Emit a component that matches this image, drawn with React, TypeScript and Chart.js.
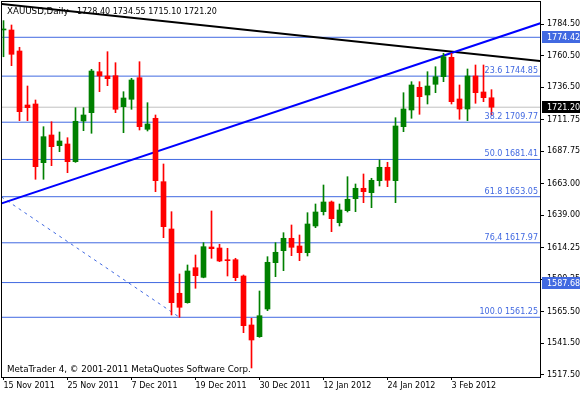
import React, { useEffect, useRef } from "react";
import { Chart, registerables } from "chart.js";
Chart.register(...registerables);

const FONT = "DejaVu Sans";
const RED = "#FF0000";
const GREEN = "#008000";
const LEVEL = "#4169E1";

const headerSymbol = "XAUUSD,Daily";
const headerQuote = "1728.40 1734.55 1715.10 1721.20";
const footerText = "MetaTrader 4, \u00A9 2001-2011 MetaQuotes Software Corp.";

const opens = [1780.0, 1779.98, 1763.99, 1722.88, 1723.64, 1678.95, 1700.04, 1691.89, 1693.19, 1679.71, 1710.7, 1717.02, 1748.23, 1744.96, 1745.19, 1721.59, 1727.22, 1743.66, 1704.38, 1712.75, 1664.49, 1628.48, 1579.53, 1572.37, 1599.01, 1591.7, 1614.77, 1614.01, 1605.1, 1605.1, 1592.69, 1555.39, 1546.48, 1567.57, 1602.82, 1611.96, 1621.39, 1615.53, 1610.43, 1630.76, 1641.65, 1649.03, 1633.27, 1642.41, 1651.54, 1659.46, 1656.11, 1665.25, 1675.45, 1665.25, 1706.36, 1719.07, 1736.35, 1730.49, 1738.64, 1744.42, 1759.19, 1727.45, 1719.83, 1744.96, 1732.78, 1728.4];
const highs = [1787.1, 1783.78, 1766.81, 1737.34, 1726.69, 1706.36, 1710.17, 1702.32, 1697.98, 1720.82, 1720.82, 1750.06, 1755.39, 1763.46, 1755.08, 1733.0, 1743.21, 1755.84, 1724.63, 1715.27, 1677.96, 1641.65, 1594.22, 1601.07, 1608.68, 1618.05, 1642.18, 1616.83, 1613.78, 1606.17, 1593.46, 1560.49, 1581.27, 1607.39, 1618.05, 1625.66, 1631.52, 1623.91, 1640.89, 1647.51, 1661.97, 1649.79, 1647.51, 1668.29, 1662.74, 1670.35, 1667.07, 1681.01, 1679.25, 1713.21, 1732.24, 1740.62, 1740.62, 1748.23, 1752.04, 1762.24, 1762.24, 1738.11, 1750.29, 1753.33, 1753.33, 1734.55];
const lows = [1759.6, 1752.8, 1710.93, 1710.93, 1666.32, 1666.32, 1676.67, 1687.33, 1671.34, 1679.2, 1703.31, 1701.34, 1733.0, 1737.57, 1717.02, 1701.79, 1719.61, 1703.85, 1703.09, 1656.87, 1621.85, 1563.01, 1561.25, 1572.0, 1583.33, 1591.3, 1606.17, 1603.6, 1592.69, 1589.12, 1549.53, 1522.65, 1546.0, 1566.28, 1592.16, 1596.73, 1608.15, 1604.34, 1607.92, 1629.47, 1639.14, 1626.42, 1630.76, 1641.42, 1641.65, 1648.5, 1644.69, 1661.21, 1660.68, 1648.5, 1702.55, 1712.75, 1715.8, 1723.64, 1732.24, 1740.62, 1723.64, 1711.99, 1710.93, 1724.17, 1725.39, 1715.1];
const closes = [1780.6, 1761.48, 1717.78, 1720.82, 1675.91, 1698.75, 1691.13, 1695.47, 1679.71, 1710.47, 1715.27, 1748.76, 1744.96, 1742.9, 1719.61, 1728.21, 1741.91, 1706.36, 1708.41, 1665.25, 1630.23, 1572.37, 1568.86, 1596.5, 1592.92, 1615.0, 1613.48, 1604.11, 1604.34, 1591.4, 1554.86, 1543.97, 1562.47, 1603.12, 1610.74, 1621.39, 1614.54, 1610.43, 1632.28, 1641.42, 1649.03, 1636.32, 1642.94, 1651.09, 1659.46, 1656.87, 1665.55, 1675.45, 1665.55, 1706.89, 1719.83, 1738.11, 1729.2, 1737.34, 1744.42, 1759.65, 1725.39, 1719.83, 1744.96, 1732.24, 1728.44, 1721.2];

const dateLabels = ["15 Nov 2011", "25 Nov 2011", "7 Dec 2011", "19 Dec 2011", "30 Dec 2011", "12 Jan 2012", "24 Jan 2012", "3 Feb 2012"];
const dateTickIndex = [0, 8, 16, 24, 32, 40, 48, 56];
const priceTicks = [1784.5, 1760.5, 1736.5, 1711.75, 1687.75, 1663.0, 1639.0, 1614.25, 1590.25, 1565.5, 1541.5, 1517.5];

const fibNames = ["23.6", "38.2", "50.0", "61.8", "76,4", "100.0"];
const fibLevels = [1744.85, 1709.77, 1681.41, 1653.05, 1617.97, 1561.25];
const markedLevels = [1774.42, 1587.68];
const lastPrice = 1721.2;

// trend lines: [x index, price] end points
const blackTrendX = [-1, 68];
const blackTrendY = [1800.26, 1755.78];
const blueTrendX = [-1, 68];
const blueTrendY = [1646.46, 1786.95];
const fibDiagX = [-1, 22];
const fibDiagY = [1655.97, 1561.25];

const X_MIN = -0.1875;
const X_MAX = 67.0625;
const Y_MAX = 1801.29;
const Y_MIN = 1515.79;

export default function App() {
  const ref = useRef<HTMLCanvasElement>(null);
  useEffect(() => {
    document.body.style.margin = "0";
    const canvas = ref.current!;
    const up = opens.map((o, i) => closes[i] >= o);
    const colors = up.map((u) => (u ? GREEN : RED));

    const hLine = (v: number, color: string, order: number) => ({
      type: "line",
      data: [
        { x: X_MIN - 1, y: v },
        { x: X_MAX + 1, y: v },
      ],
      borderColor: color,
      borderWidth: 1,
      pointRadius: 0,
      fill: false,
      clip: 0,
      order,
    });

    const datasets: any[] = [
      {
        type: "bar",
        data: opens.map((_, i) => ({ x: i, y: [lows[i], highs[i]] })),
        backgroundColor: colors,
        borderWidth: 0,
        barThickness: 1,
        grouped: false,
        order: 1,
      },
      {
        type: "bar",
        data: opens.map((o, i) => ({ x: i, y: [o, closes[i]] })),
        backgroundColor: colors,
        borderWidth: 0,
        barThickness: 5,
        minBarLength: 1,
        grouped: false,
        order: 0,
      },
    ];
    fibLevels.forEach((v) => datasets.push(hLine(v, LEVEL, 10)));
    markedLevels.forEach((v) => datasets.push(hLine(v, LEVEL, 10)));
    datasets.push(hLine(lastPrice, "#C0C0C0", 9));
    datasets.push({
      type: "line",
      data: fibDiagX.map((x, i) => ({ x, y: fibDiagY[i] })),
      borderColor: LEVEL,
      borderWidth: 1,
      borderDash: [3, 4],
      pointRadius: 0,
      clip: 0,
      order: 8,
    });
    datasets.push({
      type: "line",
      data: blackTrendX.map((x, i) => ({ x, y: blackTrendY[i] })),
      borderColor: "#000000",
      borderWidth: 2,
      pointRadius: 0,
      clip: 0,
      order: 7,
    });
    datasets.push({
      type: "line",
      data: blueTrendX.map((x, i) => ({ x, y: blueTrendY[i] })),
      borderColor: "#0000FF",
      borderWidth: 2,
      pointRadius: 0,
      clip: 0,
      order: 6,
    });

    const overlay = {
      id: "overlay",
      afterDatasetsDraw(chart: any) {
        const c = chart.ctx;
        const a = chart.chartArea;
        const ys = chart.scales.y;
        c.save();
        // fib labels
        c.font = `8px '${FONT}'`;
        c.fillStyle = LEVEL;
        c.textAlign = "right";
        c.textBaseline = "alphabetic";
        fibLevels.forEach((v, i) => {
          const y = ys.getPixelForValue(v);
          c.fillText(`${fibNames[i]} ${v.toFixed(2)}`, a.right - 2, y - 3);
        });
        // header
        c.fillStyle = "#000";
        c.textAlign = "left";
        c.font = `8.7px '${FONT}'`;
        c.fillText(headerSymbol, 7, 14);
        c.font = `8px '${FONT}'`;
        c.fillText(headerQuote, 77, 14);
        c.font = `8.7px '${FONT}'`;
        c.fillText(footerText, 7, 372);
        // frame
        c.strokeStyle = "#000";
        c.lineWidth = 1;
        c.strokeRect(a.left - 0.5, a.top - 0.5, a.right - a.left + 1, a.bottom - a.top + 1);
        c.restore();
      },
      afterDraw(chart: any) {
        const c = chart.ctx;
        const a = chart.chartArea;
        const ys = chart.scales.y;
        c.save();
        c.font = `8px '${FONT}'`;
        c.textAlign = "left";
        c.textBaseline = "middle";
        const box = (v: number, bg: string) => {
          const y = Math.round(ys.getPixelForValue(v));
          c.fillStyle = bg;
          c.fillRect(a.right + 2, y - 6, 40, 12);
          c.fillStyle = "#FFFFFF";
          c.fillText(v.toFixed(2), a.right + 7, y + 0.5);
        };
        markedLevels.forEach((v) => box(v, LEVEL));
        box(lastPrice, "#000000");
        c.restore();
      },
    };

    const chart = new Chart(canvas, {
      type: "bar",
      data: { datasets },
      options: {
        animation: false,
        responsive: false,
        devicePixelRatio: 1,
        events: [],
        layout: { padding: { left: 2, top: 2, right: 0, bottom: 0 } },
        plugins: { legend: { display: false }, tooltip: { enabled: false } },
        scales: {
          x: {
            type: "linear",
            position: "bottom",
            min: X_MIN,
            max: X_MAX,
            offset: false,
            grid: { display: true, drawOnChartArea: false, drawTicks: true, tickLength: 3, color: "#000", offset: false },
            border: { display: false },
            ticks: {
              autoSkip: false,
              maxRotation: 0,
              align: "start",
              padding: 1,
              color: "#000",
              font: { family: FONT, size: 8 },
              callback: (v: any) => {
                const k = dateTickIndex.indexOf(Number(v));
                return k >= 0 ? dateLabels[k] : "";
              },
            },
            afterBuildTicks: (s: any) => {
              s.ticks = dateTickIndex.map((v) => ({ value: v }));
            },
            afterFit: (s: any) => {
              s.height = 18;
              s.paddingLeft = 0;
              s.paddingRight = 0;
              s.paddingTop = 0;
              s.paddingBottom = 0;
            },
          },
          y: {
            type: "linear",
            position: "right",
            min: Y_MIN,
            max: Y_MAX,
            grid: { display: true, drawOnChartArea: false, drawTicks: true, tickLength: 4, color: "#000" },
            border: { display: false },
            ticks: {
              autoSkip: false,
              padding: 3,
              color: "#000",
              font: { family: FONT, size: 8 },
              callback: (v: any) => Number(v).toFixed(2),
            },
            afterBuildTicks: (s: any) => {
              s.ticks = priceTicks.map((v) => ({ value: v }));
            },
            afterFit: (s: any) => {
              s.width = 40;
              s.paddingLeft = 0;
              s.paddingRight = 0;
              s.paddingTop = 0;
              s.paddingBottom = 0;
            },
          },
        },
      } as any,
      plugins: [overlay],
    });
    return () => chart.destroy();
  }, []);
  return <canvas ref={ref} width={580} height={395} style={{ display: "block", width: 580, height: 395 }} />;
}
